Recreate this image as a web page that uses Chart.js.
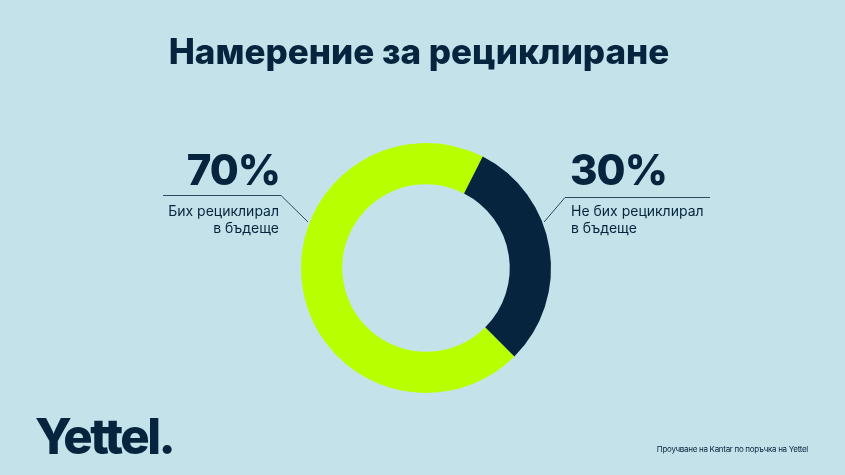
<!DOCTYPE html>
<html>
<head>
<meta charset="utf-8">
<script src="https://cdn.jsdelivr.net/npm/chart.js@4"></script>
<style>
  html, body { margin: 0; padding: 0; background: #c4e2ea; }
  #wrap { position: relative; width: 845px; height: 475px; }
</style>
</head>
<body>
<div id="wrap"><canvas id="recycle" width="845" height="475"></canvas></div>
<script>
const title = 'Намерение за рециклиране';
const categories = ['Бих рециклирал в бъдеще', 'Не бих рециклирал в бъдеще'];
const shares = [70, 30];
const labelLines = [['Бих рециклирал', 'в бъдеще'], ['Не бих рециклирал', 'в бъдеще']];
const source = 'Проучване на Kantar по поръчка на Yettel';
const brand = 'Yettel.';

const navy = '#06243d';
const lime = '#b8ff00';
const font = 'Inter, "Noto Sans", sans-serif';

// text + leader lines drawn straight on the canvas
const decor = {
    id: 'decor',
    afterDraw(chart) {
        const ctx = chart.ctx;
        ctx.save();
        ctx.fillStyle = navy;

        ctx.font = '800 35px ' + font;
        ctx.letterSpacing = '0px';
        ctx.textAlign = 'center';
        ctx.textBaseline = 'alphabetic';
        ctx.fillText(title, 419, 64);

        ctx.strokeStyle = navy;
        ctx.lineWidth = 0.8;
        ctx.beginPath();
        ctx.moveTo(163, 195.5);
        ctx.lineTo(281, 195.5);
        ctx.lineTo(308, 222);
        ctx.stroke();
        ctx.beginPath();
        ctx.moveTo(710, 197.5);
        ctx.lineTo(565, 197.5);
        ctx.lineTo(544, 222);
        ctx.stroke();

        ctx.font = '800 42px ' + font;
        ctx.letterSpacing = '-1px';
        ctx.textAlign = 'right';
        ctx.fillText(shares[0] + '%', 280, 185);
        ctx.textAlign = 'left';
        ctx.fillText(shares[1] + '%', 570, 185);

        ctx.font = '14px ' + font;
        ctx.letterSpacing = '0px';
        ctx.textAlign = 'right';
        ctx.fillText(labelLines[0][0], 279, 216);
        ctx.fillText(labelLines[0][1], 279, 233);
        ctx.textAlign = 'left';
        ctx.fillText(labelLines[1][0], 571, 216);
        ctx.fillText(labelLines[1][1], 571, 233);

        ctx.font = '8px ' + font;
        ctx.letterSpacing = '-0.3px';
        ctx.textAlign = 'right';
        ctx.fillText(source, 808, 452);

        ctx.font = '800 49px ' + font;
        ctx.letterSpacing = '-2.5px';
        ctx.textAlign = 'left';
        ctx.fillText(brand, 35, 454);
        ctx.restore();
    }
};

new Chart(document.getElementById('recycle').getContext('2d'), {
    type: 'doughnut',
    data: {
        labels: categories,
        datasets: [{
            data: shares,
            backgroundColor: [lime, navy],
            borderWidth: 0,
            hoverOffset: 0
        }]
    },
    options: {
        responsive: false,
        animation: false,
        rotation: 135,
        cutout: '67%',
        layout: { padding: { top: 143, bottom: 82, left: 301, right: 294 } },
        plugins: {
            legend: { display: false },
            tooltip: { enabled: false }
        }
    },
    plugins: [decor]
});
</script>
</body>
</html>
